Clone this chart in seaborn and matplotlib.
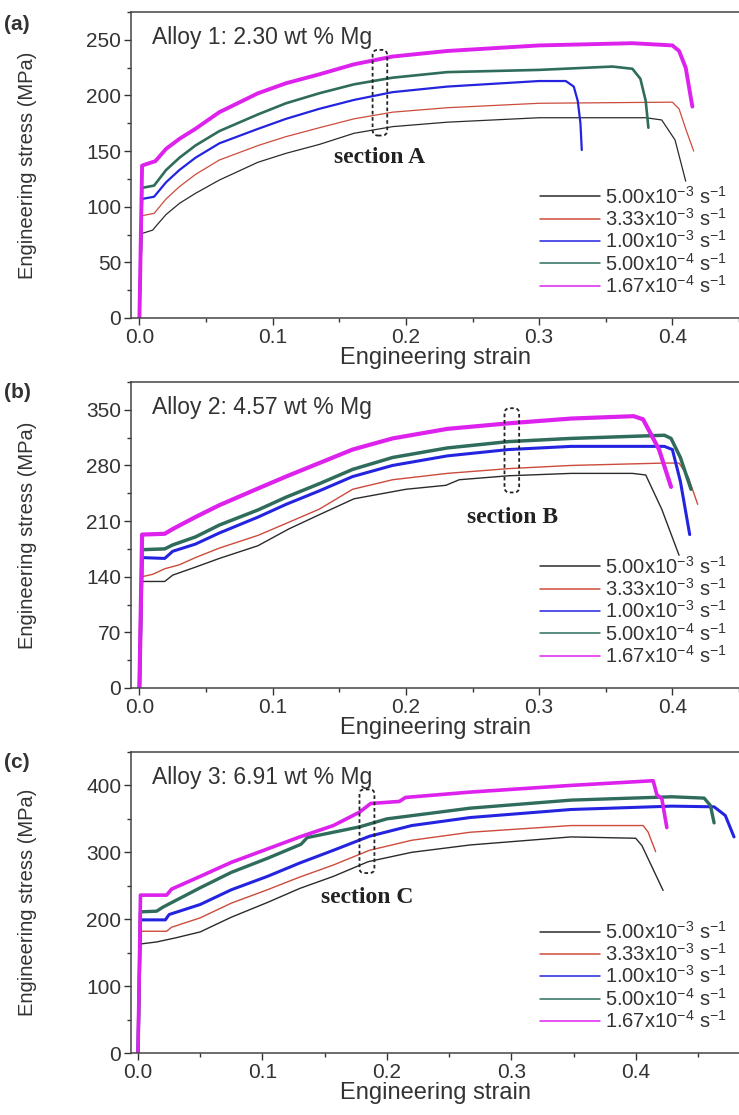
import matplotlib
matplotlib.use("Agg")
import matplotlib.pyplot as plt
import pandas as pd
import seaborn as sns
from matplotlib.lines import Line2D
from matplotlib.patches import FancyBboxPatch

# strain rates (legend) and colours
rates = ["5.00x10$^{-3}$ s$^{-1}$", "3.33x10$^{-3}$ s$^{-1}$", "1.00x10$^{-3}$ s$^{-1}$",
         "5.00x10$^{-4}$ s$^{-1}$", "1.67x10$^{-4}$ s$^{-1}$"]
colors = ["#2b2b2b", "#cc4b3c", "#2424e0", "#2f6c5c", "#dd22ee"]

# ---- Alloy 1 (strain, stress MPa) ----
a1_r1 = [(0, 0), (0.002, 76), (0.010, 79), (0.012, 82), (0.02, 93), (0.03, 103), (0.042, 112),
         (0.06, 124), (0.089, 140), (0.11, 148), (0.135, 156), (0.161, 166), (0.19, 172),
         (0.231, 176), (0.30, 180), (0.38, 180), (0.392, 178), (0.402, 160), (0.410, 123)]
a1_r2 = [(0, 0), (0.002, 92), (0.011, 94), (0.02, 107), (0.03, 118), (0.042, 129), (0.06, 142),
         (0.089, 155), (0.11, 163), (0.135, 171), (0.161, 179), (0.19, 185), (0.231, 189),
         (0.30, 193), (0.40, 194), (0.405, 188), (0.410, 170), (0.416, 150)]
a1_r3 = [(0, 0), (0.002, 107), (0.011, 109), (0.02, 122), (0.03, 133), (0.042, 144), (0.06, 157),
         (0.089, 170), (0.11, 179), (0.135, 188), (0.161, 196), (0.19, 203), (0.231, 208),
         (0.30, 213), (0.32, 213), (0.326, 208), (0.329, 195), (0.331, 175), (0.332, 151)]
a1_r4 = [(0, 0), (0.002, 117), (0.011, 119), (0.02, 133), (0.03, 144), (0.042, 155), (0.06, 168),
         (0.089, 183), (0.11, 193), (0.135, 202), (0.161, 210), (0.19, 216), (0.231, 221),
         (0.30, 223), (0.355, 226), (0.37, 224), (0.376, 215), (0.380, 195), (0.382, 171)]
a1_r5 = [(0, 0), (0.002, 137), (0.012, 141), (0.02, 152), (0.03, 161), (0.042, 170), (0.06, 185),
         (0.089, 202), (0.11, 211), (0.135, 219), (0.161, 228), (0.19, 235), (0.231, 240),
         (0.30, 245), (0.37, 247), (0.40, 245), (0.405, 240), (0.410, 225), (0.415, 190)]

# ---- Alloy 2 ----
a2_r1 = [(0, 0), (0.002, 134), (0.019, 134), (0.025, 142), (0.042, 152), (0.06, 163), (0.089, 179),
         (0.112, 200), (0.135, 218), (0.161, 238), (0.20, 250), (0.23, 255), (0.24, 262),
         (0.277, 267), (0.324, 270), (0.37, 270), (0.38, 268), (0.392, 225), (0.405, 167)]
a2_r2 = [(0, 0), (0.002, 140), (0.010, 143), (0.019, 150), (0.03, 155), (0.042, 164), (0.06, 176),
         (0.089, 192), (0.11, 207), (0.135, 225), (0.16, 250), (0.19, 262), (0.231, 270),
         (0.277, 276), (0.324, 280), (0.394, 283), (0.405, 283), (0.412, 265), (0.419, 231)]
a2_r3 = [(0, 0), (0.002, 164), (0.019, 163), (0.025, 172), (0.042, 181), (0.06, 195), (0.089, 215),
         (0.11, 231), (0.135, 248), (0.16, 266), (0.19, 280), (0.231, 292), (0.277, 300),
         (0.324, 304), (0.394, 304), (0.400, 300), (0.406, 260), (0.413, 193)]
a2_r4 = [(0, 0), (0.002, 174), (0.019, 175), (0.025, 180), (0.042, 190), (0.06, 205), (0.089, 224),
         (0.11, 240), (0.135, 257), (0.16, 275), (0.19, 290), (0.231, 302), (0.277, 310),
         (0.324, 314), (0.394, 318), (0.399, 314), (0.406, 290), (0.414, 250)]
a2_r5 = [(0, 0), (0.002, 193), (0.019, 194), (0.025, 200), (0.042, 215), (0.06, 230), (0.089, 251),
         (0.11, 266), (0.135, 283), (0.16, 300), (0.19, 314), (0.231, 326), (0.277, 333),
         (0.324, 339), (0.371, 342), (0.378, 338), (0.39, 300), (0.399, 253)]

# ---- Alloy 3 ----
a3_r1 = [(0, 0), (0.002, 163), (0.015, 166), (0.03, 172), (0.05, 181), (0.075, 203), (0.104, 225),
         (0.13, 246), (0.157, 264), (0.185, 286), (0.22, 300), (0.267, 311), (0.348, 323),
         (0.40, 321), (0.405, 310), (0.422, 243)]
a3_r2 = [(0, 0), (0.002, 182), (0.023, 182), (0.027, 188), (0.05, 202), (0.075, 224), (0.104, 244),
         (0.13, 263), (0.157, 281), (0.186, 303), (0.22, 318), (0.267, 330), (0.348, 340),
         (0.406, 340), (0.410, 330), (0.416, 301)]
a3_r3 = [(0, 0), (0.002, 199), (0.022, 199), (0.025, 207), (0.05, 222), (0.075, 244), (0.104, 264),
         (0.13, 284), (0.157, 303), (0.186, 324), (0.22, 340), (0.267, 352), (0.348, 364),
         (0.429, 369), (0.463, 368), (0.472, 355), (0.479, 323)]
a3_r4 = [(0, 0), (0.002, 211), (0.015, 212), (0.02, 218), (0.05, 247), (0.075, 270), (0.104, 291),
         (0.131, 312), (0.136, 322), (0.178, 338), (0.20, 350), (0.267, 366), (0.348, 378),
         (0.429, 383), (0.455, 381), (0.460, 370), (0.463, 344)]
a3_r5 = [(0, 0), (0.002, 236), (0.023, 236), (0.027, 245), (0.05, 264), (0.075, 285), (0.104, 305),
         (0.13, 323), (0.157, 340), (0.178, 360), (0.187, 373), (0.21, 376), (0.215, 382),
         (0.267, 390), (0.348, 400), (0.414, 407), (0.417, 386), (0.421, 380), (0.425, 337)]

sns.set_style("ticks")
plt.rcParams['font.family'] = ['Liberation Sans', 'DejaVu Sans']
plt.rcParams['mathtext.fontset'] = 'custom'
plt.rcParams['mathtext.rm'] = 'Liberation Sans'

fig = plt.figure(figsize=(7.39, 11.15), dpi=100)

panels = [
    dict(curves=[a1_r1, a1_r2, a1_r3, a1_r4, a1_r5], lws=[0.9, 0.9, 1.6, 1.9, 2.8],
         rect=[0.1773, 0.7148, 0.8227, 0.2744], xlim=(-0.0063, 0.418), ylim=(0, 267.5),
         yticks=range(0, 251, 50), ymin=25, tag="(a)", alloy="Alloy 1: 2.30 wt % Mg",
         box=(0.175, 0.186, 164, 241), sec=("section A", 0.180, 144), fy=0.9865),
    dict(curves=[a2_r1, a2_r2, a2_r3, a2_r4, a2_r5], lws=[1.0, 1.0, 2.2, 2.5, 3.0],
         rect=[0.1773, 0.3830, 0.8227, 0.2744], xlim=(-0.0063, 0.418), ylim=(0, 362),
         yticks=range(0, 351, 70), ymin=35, tag="(b)", alloy="Alloy 2: 4.57 wt % Mg",
         box=(0.274, 0.285, 246, 352), sec=("section B", 0.280, 215), fy=0.6565),
    dict(curves=[a3_r1, a3_r2, a3_r3, a3_r4, a3_r5], lws=[1.0, 1.0, 2.2, 2.4, 2.6],
         rect=[0.1773, 0.0556, 0.8227, 0.2700], xlim=(-0.0056, 0.483), ylim=(0, 430),
         yticks=range(0, 401, 100), ymin=50, tag="(c)", alloy="Alloy 3: 6.91 wt % Mg",
         box=(0.178, 0.190, 269, 394), sec=("section C", 0.184, 232), fy=0.3245),
]

for p in panels:
    ax = fig.add_axes(p["rect"])
    frames = []
    for i, c in enumerate(p["curves"]):
        d = pd.DataFrame(c, columns=["strain", "stress"])
        d["rate"] = rates[i]
        frames.append(d)
    df = pd.concat(frames, ignore_index=True)
    for i, r in enumerate(rates):
        sub = df[df["rate"] == r]
        sns.lineplot(data=sub, x="strain", y="stress", sort=False, estimator=None,
                     color=colors[i], lw=p["lws"][i], ax=ax, legend=False)

    ax.set_xlim(*p["xlim"])
    ax.set_ylim(*p["ylim"])
    ax.set_xticks([0.0, 0.1, 0.2, 0.3, 0.4])
    ax.set_xticklabels(["0.0", "0.1", "0.2", "0.3", "0.4"])
    ax.set_xticks([0.05, 0.15, 0.25, 0.35, 0.45], minor=True)
    ax.set_yticks(list(p["yticks"]))
    ax.set_yticks([v + p["ymin"] for v in p["yticks"]], minor=True)
    ax.tick_params(which="major", direction="out", length=5, width=1, labelsize=15,
                   colors="#333333", pad=2)
    ax.tick_params(which="minor", direction="out", length=3, width=1, colors="#333333")
    for s in ["left", "bottom", "top"]:
        ax.spines[s].set_color("#444444")
        ax.spines[s].set_linewidth(1.1)
    ax.spines["right"].set_visible(False)

    ax.set_xlabel("Engineering strain", fontsize=17, color="#333333", labelpad=0)
    ax.set_ylabel("Engineering stress (MPa)", fontsize=14.5, color="#333333")
    ax.yaxis.set_label_coords(-0.155, 0.5)

    ax.text(0.035, 0.955, p["alloy"], transform=ax.transAxes, fontsize=16.5,
            color="#333333", va="top", ha="left")
    fig.text(0.005, p["fy"], p["tag"], fontsize=15, color="#333333", va="top", ha="left",
             fontweight="bold")

    x0, x1, y0, y1 = p["box"]
    xr = p["xlim"][1] - p["xlim"][0]
    yr = p["ylim"][1] - p["ylim"][0]
    asp = (yr / (p["rect"][3] * 1115)) / (xr / (p["rect"][2] * 739))
    ax.add_patch(FancyBboxPatch((x0, y0), x1 - x0, y1 - y0,
                                boxstyle="round,pad=0,rounding_size=0.004",
                                mutation_aspect=asp, fill=False, ec="#222222",
                                lw=1.3, ls=(0, (2, 1.5)), zorder=5))
    ax.text(p["sec"][1], p["sec"][2], p["sec"][0], fontsize=17, fontweight="bold",
            family="Liberation Serif", ha="center", va="center", color="#222222")

    handles = [Line2D([], [], color=colors[i], lw=1.1) for i in range(5)]
    ax.legend(handles, rates, loc="lower right", bbox_to_anchor=(1.0, 0.03), frameon=False,
              fontsize=14.5, handlelength=3.0, handletextpad=0.25, labelspacing=0.02,
              borderaxespad=0.2, labelcolor="#333333")

fig.savefig("out.png", dpi=100)
